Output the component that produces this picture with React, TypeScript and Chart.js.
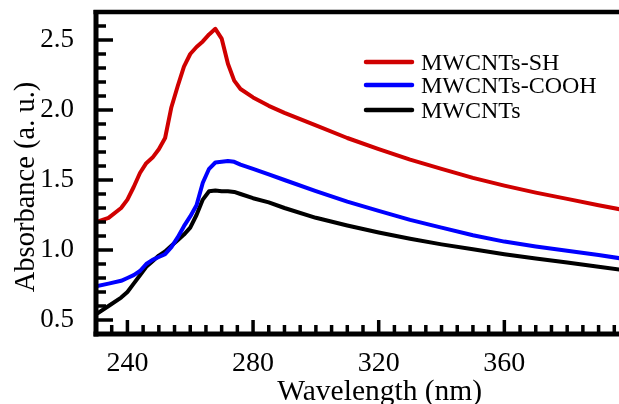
import React, { useEffect, useRef } from "react";
import { Chart, registerables } from "chart.js";

Chart.register(...registerables);

// ---- data ----
const wavelengths = [230, 234, 238, 240, 242, 244, 246, 248, 250, 252, 254, 256, 258, 260, 262, 264, 266, 268, 270, 272, 274, 276, 280, 285, 290, 300, 310, 320, 330, 340, 350, 360, 370, 380, 390, 397];
const absSH = [1.20, 1.23, 1.30, 1.36, 1.45, 1.55, 1.62, 1.66, 1.72, 1.80, 2.02, 2.17, 2.31, 2.40, 2.45, 2.49, 2.54, 2.58, 2.51, 2.33, 2.21, 2.15, 2.09, 2.03, 1.98, 1.89, 1.80, 1.72, 1.645, 1.58, 1.515, 1.46, 1.41, 1.365, 1.32, 1.29];
const absCOOH = [0.74, 0.76, 0.78, 0.80, 0.82, 0.85, 0.90, 0.93, 0.95, 0.97, 1.02, 1.09, 1.17, 1.24, 1.32, 1.48, 1.58, 1.625, 1.63, 1.635, 1.63, 1.61, 1.58, 1.54, 1.50, 1.42, 1.345, 1.28, 1.215, 1.16, 1.105, 1.06, 1.025, 0.995, 0.965, 0.94];
const absMW = [0.54, 0.60, 0.66, 0.70, 0.76, 0.82, 0.88, 0.92, 0.96, 0.99, 1.03, 1.07, 1.11, 1.16, 1.25, 1.36, 1.42, 1.425, 1.42, 1.42, 1.415, 1.40, 1.37, 1.34, 1.30, 1.23, 1.175, 1.125, 1.08, 1.04, 1.005, 0.97, 0.94, 0.91, 0.88, 0.86];

const seriesLabels = ["MWCNTs-SH", "MWCNTs-COOH", "MWCNTs"];
const seriesColors = ["#D00000", "#0000FF", "#000000"];
const xTickValues = [240, 280, 320, 360];
const yTickValues = [0.5, 1.0, 1.5, 2.0, 2.5];
const xTitle = "Wavelength (nm)";
const yTitle = "Absorbance (a. u.)";

const X_MIN = 230;
const X_MAX = 396.5;
const Y_MIN = 0.4;
const Y_MAX = 2.7;

const FONT = '"Liberation Serif", "Times New Roman", serif';

const framePlugin = {
  id: "frame",
  afterDraw(chart: any) {
    const { ctx, chartArea: a, scales } = chart;
    const x = scales.x;
    const y = scales.y;
    ctx.save();
    ctx.strokeStyle = "#000";
    ctx.lineCap = "butt";

    // inward ticks
    ctx.lineWidth = 3.5;
    for (let v = 235; v < X_MAX; v += 5) {
      const px = x.getPixelForValue(v);
      const major = v % 40 === 0;
      ctx.beginPath();
      ctx.moveTo(px, a.bottom);
      ctx.lineTo(px, a.bottom - (major ? 14 : 9));
      ctx.stroke();
    }
    for (let i = 5; i <= 26; i++) {
      const py = y.getPixelForValue(i / 10);
      const major = i % 5 === 0;
      ctx.beginPath();
      ctx.moveTo(a.left, py);
      ctx.lineTo(a.left + (major ? 17 : 10), py);
      ctx.stroke();
    }

    // frame lines
    ctx.lineWidth = 5;
    ctx.beginPath();
    ctx.moveTo(a.left, a.top - 2);
    ctx.lineTo(a.left, a.bottom + 2.5);
    ctx.stroke();
    ctx.beginPath();
    ctx.moveTo(a.left - 2.5, a.bottom);
    ctx.lineTo(a.right, a.bottom);
    ctx.stroke();
    ctx.lineWidth = 4.5;
    ctx.beginPath();
    ctx.moveTo(a.left - 2.5, a.top);
    ctx.lineTo(a.right, a.top);
    ctx.stroke();

    // axis titles
    ctx.fillStyle = "#000";
    ctx.font = `29.5px ${FONT}`;
    ctx.textAlign = "center";
    ctx.textBaseline = "alphabetic";
    ctx.fillText(xTitle, x.getPixelForValue(320) + 1, 400);

    ctx.save();
    ctx.font = `28.5px ${FONT}`;
    ctx.translate(34, 187);
    ctx.rotate(-Math.PI / 2);
    ctx.fillText(yTitle, 0, 0);
    ctx.restore();

    // legend
    const rows = [62, 85, 110];
    ctx.font = `24px ${FONT}`;
    ctx.textAlign = "left";
    ctx.textBaseline = "alphabetic";
    chart.data.datasets.forEach((ds: any, i: number) => {
      const ry = rows[i];
      ctx.strokeStyle = ds.borderColor;
      ctx.lineWidth = 4.5;
      ctx.lineCap = "round";
      ctx.beginPath();
      ctx.moveTo(366, ry);
      ctx.lineTo(412, ry);
      ctx.stroke();
      ctx.fillStyle = "#000";
      ctx.fillText(ds.label, 421, ry + 7.5);
    });
    ctx.restore();
  },
};

export default function App() {
  const ref = useRef<HTMLCanvasElement>(null);

  useEffect(() => {
    document.body.style.margin = "0";
    const series = [absSH, absCOOH, absMW];
    const chart = new Chart(ref.current as HTMLCanvasElement, {
      type: "line",
      data: {
        datasets: series.map((vals, i) => ({
          label: seriesLabels[i],
          data: wavelengths.map((w, j) => ({ x: w, y: vals[j] })),
          borderColor: seriesColors[i],
          backgroundColor: seriesColors[i],
          borderWidth: 4,
          pointRadius: 0,
          tension: 0,
          borderJoinStyle: "round" as const,
          fill: false,
        })),
      },
      options: {
        responsive: false,
        animation: false,
        layout: { padding: { top: 12, right: 0, left: 0, bottom: 0 } },
        plugins: {
          legend: { display: false },
          tooltip: { enabled: false },
        },
        scales: {
          x: {
            type: "linear",
            min: X_MIN,
            max: X_MAX,
            grid: { display: false },
            border: { display: false },
            afterBuildTicks: (s: any) => {
              s.ticks = xTickValues.map((v) => ({ value: v }));
            },
            afterFit: (s: any) => {
              s.height = 70;
              s.paddingLeft = 0;
              s.paddingRight = 0;
            },
            ticks: {
              color: "#000",
              font: { family: FONT, size: 28 },
              padding: 5,
              maxRotation: 0,
              autoSkip: false,
              callback: (v: any) => String(v),
            },
          },
          y: {
            type: "linear",
            min: Y_MIN,
            max: Y_MAX,
            grid: { display: false },
            border: { display: false },
            afterBuildTicks: (s: any) => {
              s.ticks = yTickValues.map((v) => ({ value: v }));
            },
            afterFit: (s: any) => {
              s.width = 96;
              s.paddingTop = 0;
              s.paddingBottom = 0;
            },
            ticks: {
              color: "#000",
              font: { family: FONT, size: 27 },
              padding: 14,
              autoSkip: false,
              callback: (v: any) => Number(v).toFixed(1),
            },
          },
        },
      },
      plugins: [framePlugin],
    });
    return () => chart.destroy();
  }, []);

  return (
    <div style={{ width: 619, height: 404, overflow: "hidden" }}>
      <canvas ref={ref} width={619} height={404} style={{ display: "block" }} />
    </div>
  );
}
